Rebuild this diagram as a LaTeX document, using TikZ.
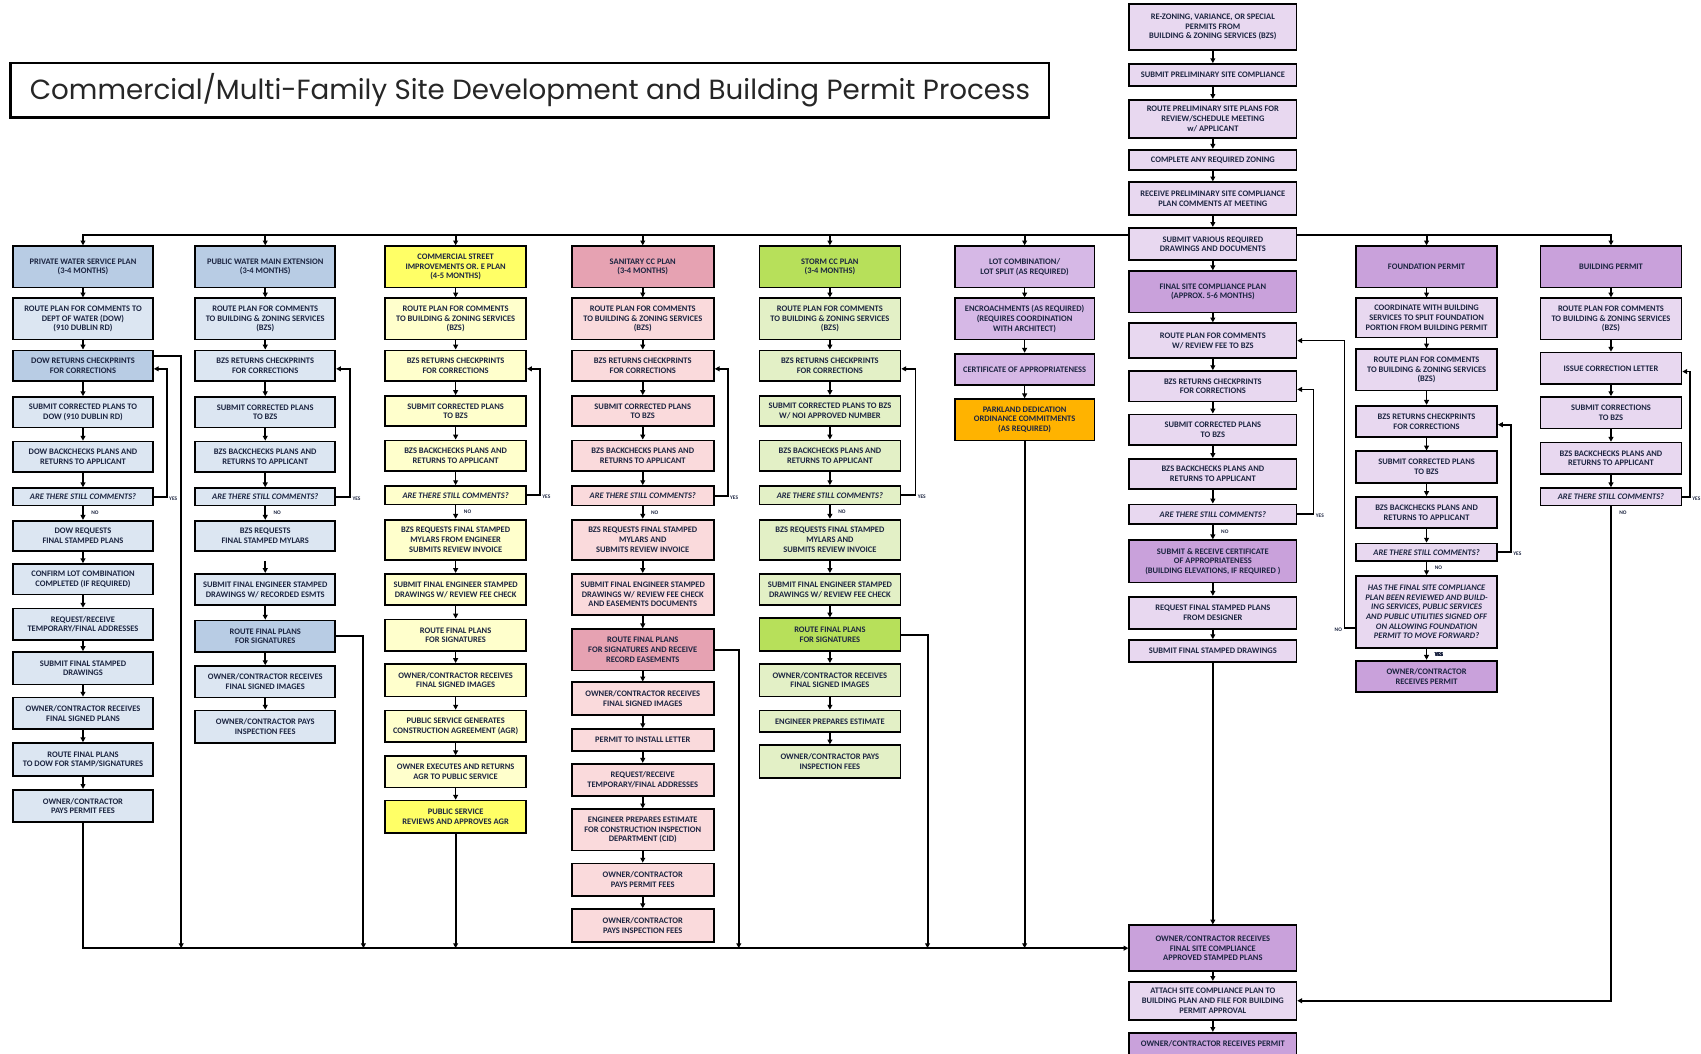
\documentclass[tikz,border=0pt]{standalone}
\usepackage{fontspec}
\usepackage{graphicx}
\usetikzlibrary{arrows.meta}
\newfontfamily\bxfam{Carlito}
\newfontfamily\ttlfam{Poppins}
\newcommand\bxfont{\bxfam\bfseries\fontsize{7.8}{8.9}\selectfont}
\definecolor{blueH}{HTML}{B8CCE4}
\definecolor{blueL}{HTML}{DCE6F2}
\definecolor{yelH}{HTML}{FFFF66}
\definecolor{yelL}{HTML}{FFFFCC}
\definecolor{pinkH}{HTML}{E6A2B2}
\definecolor{pinkL}{HTML}{FADADC}
\definecolor{grnH}{HTML}{B7E05A}
\definecolor{grnL}{HTML}{E3F0C6}
\definecolor{purH}{HTML}{C9A1DB}
\definecolor{purL}{HTML}{E8D8F0}
\definecolor{purM}{HTML}{D6B8E6}
\definecolor{orng}{HTML}{FFB300}
\definecolor{txt}{HTML}{1C2541}
\tikzset{
 box/.style={draw=black, line width=1.6pt, font=\bxfont, text=txt, align=center, inner sep=1pt},
 qq/.style={font=\bxfont\itshape},
 arr/.style={line width=1.5pt, -{Triangle[length=4.5pt,width=4.5pt]}},
 busarr/.style={line width=1.9pt, -{Triangle[length=4.5pt,width=4.5pt]}},
 lab/.style={font=\bxfam\bfseries\fontsize{5}{6}\selectfont, text=txt, inner sep=0.5pt},
}
% name, x, width, top, bottom, style, text
\newcommand\mkbox[7]{%
 \pgfmathsetlengthmacro\mbH{#5pt-#4pt}\pgfmathsetmacro\mbY{(#4+#5)/2}%
 \node[box,#6,minimum width=#3pt,minimum height=\mbH] (#1) at (#2,\mbY) {#7};}
\newcommand\yesloop[3]{%
 \draw[arr] (#1.east) -- ++(#3,0) coordinate (tmpc) |- ([yshift=-3pt]#2.east);
 \node[lab,anchor=west] at ([xshift=1.5pt,yshift=-1.5pt]tmpc) {YES};}
\newcommand\nolab[1]{\node[lab,anchor=west] at ([xshift=7pt,yshift=-6pt]#1.south) {NO};}
\begin{document}
\begin{tikzpicture}[x=1pt,y=-1pt]
\path[use as bounding box, clip] (0,0) rectangle (1568,971);
\fill[white] (0,0) rectangle (1568,971);
% title
\node[draw=black, line width=2.5pt, fill=white, minimum width=957pt, minimum height=50pt, inner sep=0pt] (title) at (488.5,83)
 {\resizebox{922pt}{!}{\ttlfam\color{black!85}Commercial/Multi-Family Site Development and Building Permit Process}};
% top chain
\def\cs{1118}
\mkbox{t1}{\cs}{154}{4}{46}{fill=purL}{RE-ZONING, VARIANCE, OR SPECIAL\\PERMITS FROM\\BUILDING \& ZONING SERVICES (BZS)}
\mkbox{t2}{\cs}{154}{59}{79}{fill=purL}{SUBMIT PRELIMINARY SITE COMPLIANCE}
\mkbox{t3}{\cs}{154}{92}{127}{fill=purL}{ROUTE PRELIMINARY SITE PLANS FOR\\REVIEW/SCHEDULE MEETING\\w/ APPLICANT}
\mkbox{t4}{\cs}{154}{138}{157}{fill=purL}{COMPLETE ANY REQUIRED ZONING}
\mkbox{t5}{\cs}{154}{168}{198}{fill=purL}{RECEIVE PRELIMINARY SITE COMPLIANCE\\PLAN COMMENTS AT MEETING}
\mkbox{sv}{\cs}{154}{210}{240}{fill=purL}{SUBMIT VARIOUS REQUIRED\\DRAWINGS AND DOCUMENTS}
% column 1
\def\cx{76.5}
\mkbox{c1a}{\cx}{129}{227}{265}{fill=blueH}{PRIVATE WATER SERVICE PLAN\\(3-4 MONTHS)}
\mkbox{c1b}{\cx}{129}{275}{313}{fill=blueL}{ROUTE PLAN FOR COMMENTS TO\\DEPT OF WATER (DOW)\\(910  DUBLIN RD)}
\mkbox{c1c}{\cx}{129}{323}{351}{fill=blueH}{DOW RETURNS CHECKPRINTS\\FOR CORRECTIONS}
\mkbox{c1d}{\cx}{129}{366}{394}{fill=blueL}{SUBMIT CORRECTED PLANS TO\\DOW (910 DUBLIN RD)}
\mkbox{c1e}{\cx}{129}{407}{435}{fill=blueL}{DOW BACKCHECKS PLANS AND\\RETURNS TO APPLICANT}
\mkbox{c1q}{\cx}{129}{450}{466}{fill=blueL,qq}{ARE THERE STILL COMMENTS?}
\mkbox{c1f}{\cx}{129}{480}{508}{fill=blueL}{DOW REQUESTS\\FINAL STAMPED PLANS}
\mkbox{c1g}{\cx}{129}{520}{548}{fill=blueL}{CONFIRM LOT COMBINATION\\COMPLETED (IF REQUIRED)}
\mkbox{c1h}{\cx}{129}{561}{590}{fill=blueL}{REQUEST/RECEIVE\\TEMPORARY/FINAL ADDRESSES}
\mkbox{c1i}{\cx}{129}{601}{631}{fill=blueL}{SUBMIT FINAL STAMPED\\DRAWINGS}
\mkbox{c1j}{\cx}{129}{643}{672}{fill=blueL}{OWNER/CONTRACTOR RECEIVES\\FINAL SIGNED PLANS}
\mkbox{c1k}{\cx}{129}{685}{715}{fill=blueL}{ROUTE FINAL PLANS\\TO DOW FOR STAMP/SIGNATURES}
\mkbox{c1l}{\cx}{129}{728}{758}{fill=blueL}{OWNER/CONTRACTOR\\PAYS PERMIT FEES}
% column 2
\def\cx{244.5}
\mkbox{c2a}{\cx}{129}{227}{265}{fill=blueH}{PUBLIC WATER MAIN EXTENSION\\(3-4 MONTHS)}
\mkbox{c2b}{\cx}{129}{275}{313}{fill=blueL}{ROUTE PLAN FOR COMMENTS\\TO BUILDING \& ZONING SERVICES\\(BZS)}
\mkbox{c2c}{\cx}{129}{323}{351}{fill=blueL}{BZS RETURNS CHECKPRINTS\\FOR CORRECTIONS}
\mkbox{c2d}{\cx}{129}{366}{394}{fill=blueL}{SUBMIT CORRECTED PLANS\\TO BZS}
\mkbox{c2e}{\cx}{129}{407}{435}{fill=blueL}{BZS BACKCHECKS PLANS AND\\RETURNS TO APPLICANT}
\mkbox{c2q}{\cx}{129}{450}{466}{fill=blueL,qq}{ARE THERE STILL COMMENTS?}
\mkbox{c2f}{\cx}{129}{480}{508}{fill=blueL}{BZS REQUESTS\\FINAL STAMPED MYLARS}
\mkbox{c2g}{\cx}{129}{529}{558}{fill=blueL}{SUBMIT FINAL ENGINEER STAMPED\\DRAWINGS  W/ RECORDED ESMTS}
\mkbox{c2h}{\cx}{129}{572}{601}{fill=blueH}{ROUTE  FINAL PLANS\\FOR SIGNATURES}
\mkbox{c2i}{\cx}{129}{614}{643}{fill=blueL}{OWNER/CONTRACTOR RECEIVES\\FINAL SIGNED IMAGES}
\mkbox{c2j}{\cx}{129}{655}{685}{fill=blueL}{OWNER/CONTRACTOR PAYS\\INSPECTION FEES}
\coordinate (c2gap) at (\cx,517);
% column 3
\def\cx{420}
\mkbox{c3a}{\cx}{130}{227}{265}{fill=yelH}{COMMERCIAL STREET\\IMPROVEMENTS OR. E PLAN\\(4-5 MONTHS)}
\mkbox{c3b}{\cx}{130}{275}{313}{fill=yelL}{ROUTE PLAN FOR COMMENTS\\TO BUILDING \& ZONING SERVICES\\(BZS)}
\mkbox{c3c}{\cx}{130}{323}{351}{fill=yelL}{BZS RETURNS CHECKPRINTS\\FOR CORRECTIONS}
\mkbox{c3d}{\cx}{130}{365}{393}{fill=yelL}{SUBMIT CORRECTED PLANS\\TO BZS}
\mkbox{c3e}{\cx}{130}{406}{434}{fill=yelL}{BZS BACKCHECKS PLANS AND\\RETURNS TO APPLICANT}
\mkbox{c3q}{\cx}{130}{448}{465}{fill=yelL,qq}{ARE THERE STILL COMMENTS?}
\mkbox{c3f}{\cx}{130}{479}{516}{fill=yelL}{BZS REQUESTS FINAL STAMPED\\MYLARS FROM ENGINEER\\SUBMITS REVIEW INVOICE}
\mkbox{c3g}{\cx}{130}{529}{558}{fill=yelL}{SUBMIT FINAL ENGINEER STAMPED\\DRAWINGS  W/ REVIEW FEE CHECK}
\mkbox{c3h}{\cx}{130}{571}{600}{fill=yelL}{ROUTE  FINAL PLANS\\FOR SIGNATURES}
\mkbox{c3i}{\cx}{130}{612}{642}{fill=yelL}{OWNER/CONTRACTOR RECEIVES\\FINAL SIGNED IMAGES}
\mkbox{c3j}{\cx}{130}{655}{684}{fill=yelL}{PUBLIC SERVICE GENERATES\\CONSTRUCTION AGREEMENT (AGR)}
\mkbox{c3k}{\cx}{130}{697}{726}{fill=yelL}{OWNER EXECUTES AND RETURNS\\AGR TO PUBLIC SERVICE}
\mkbox{c3l}{\cx}{130}{738}{768}{fill=yelH}{PUBLIC SERVICE\\REVIEWS AND APPROVES AGR}
% column 4
\def\cx{592.5}
\mkbox{c4a}{\cx}{131}{227}{265}{fill=pinkH}{SANITARY CC PLAN\\(3-4 MONTHS)}
\mkbox{c4b}{\cx}{131}{275}{313}{fill=pinkL}{ROUTE PLAN FOR COMMENTS\\TO BUILDING \& ZONING SERVICES\\(BZS)}
\mkbox{c4c}{\cx}{131}{323}{351}{fill=pinkL}{BZS RETURNS CHECKPRINTS\\FOR CORRECTIONS}
\mkbox{c4d}{\cx}{131}{365}{393}{fill=pinkL}{SUBMIT CORRECTED PLANS\\TO BZS}
\mkbox{c4e}{\cx}{131}{406}{434}{fill=pinkL}{BZS BACKCHECKS PLANS AND\\RETURNS TO APPLICANT}
\mkbox{c4q}{\cx}{131}{448}{466}{fill=pinkL,qq}{ARE THERE STILL COMMENTS?}
\mkbox{c4f}{\cx}{131}{479}{516}{fill=pinkL}{BZS REQUESTS FINAL STAMPED\\MYLARS AND\\SUBMITS REVIEW INVOICE}
\mkbox{c4g}{\cx}{131}{529}{567}{fill=pinkL}{SUBMIT FINAL ENGINEER STAMPED\\DRAWINGS  W/ REVIEW FEE CHECK\\AND EASEMENTS DOCUMENTS}
\mkbox{c4h}{\cx}{131}{580}{618}{fill=pinkH}{ROUTE  FINAL PLANS\\FOR SIGNATURES AND RECEIVE\\RECORD EASEMENTS}
\mkbox{c4i}{\cx}{131}{629}{659}{fill=pinkL}{OWNER/CONTRACTOR RECEIVES\\FINAL SIGNED IMAGES}
\mkbox{c4j}{\cx}{131}{672}{692}{fill=pinkL}{PERMIT TO INSTALL LETTER}
\mkbox{c4k}{\cx}{131}{704}{734}{fill=pinkL}{REQUEST/RECEIVE\\TEMPORARY/FINAL ADDRESSES}
\mkbox{c4l}{\cx}{131}{746}{784}{fill=pinkL}{ENGINEER PREPARES ESTIMATE\\FOR CONSTRUCTION INSPECTION\\DEPARTMENT (CID)}
\mkbox{c4m}{\cx}{131}{796}{826}{fill=pinkL}{OWNER/CONTRACTOR\\PAYS PERMIT FEES}
\mkbox{c4n}{\cx}{131}{838}{868}{fill=pinkL}{OWNER/CONTRACTOR\\PAYS INSPECTION FEES}
% column 5
\def\cx{765}
\mkbox{c5a}{\cx}{130}{227}{265}{fill=grnH}{STORM CC PLAN\\(3-4 MONTHS)}
\mkbox{c5b}{\cx}{130}{275}{313}{fill=grnL}{ROUTE PLAN FOR COMMENTS\\TO BUILDING \& ZONING SERVICES\\(BZS)}
\mkbox{c5c}{\cx}{130}{323}{351}{fill=grnL}{BZS RETURNS CHECKPRINTS\\FOR CORRECTIONS}
\mkbox{c5d}{\cx}{130}{365}{393}{fill=grnL}{SUBMIT CORRECTED PLANS TO BZS\\W/ NOI APPROVED NUMBER}
\mkbox{c5e}{\cx}{130}{406}{434}{fill=grnL}{BZS BACKCHECKS PLANS AND\\RETURNS TO APPLICANT}
\mkbox{c5q}{\cx}{130}{448}{465}{fill=grnL,qq}{ARE THERE STILL COMMENTS?}
\mkbox{c5f}{\cx}{130}{479}{516}{fill=grnL}{BZS REQUESTS FINAL STAMPED\\MYLARS AND\\SUBMITS REVIEW INVOICE}
\mkbox{c5g}{\cx}{130}{529}{558}{fill=grnL}{SUBMIT FINAL ENGINEER STAMPED\\DRAWINGS  W/ REVIEW FEE CHECK}
\mkbox{c5h}{\cx}{130}{570}{600}{fill=grnH}{ROUTE  FINAL PLANS\\FOR SIGNATURES}
\mkbox{c5i}{\cx}{130}{612}{642}{fill=grnL}{OWNER/CONTRACTOR RECEIVES\\FINAL SIGNED IMAGES}
\mkbox{c5j}{\cx}{130}{655}{675}{fill=grnL}{ENGINEER PREPARES ESTIMATE}
\mkbox{c5k}{\cx}{130}{687}{717}{fill=grnL}{OWNER/CONTRACTOR PAYS\\INSPECTION FEES}
% column 6
\def\cx{944.5}
\mkbox{c6a}{\cx}{129}{227}{265}{fill=purM}{LOT COMBINATION/\\LOT SPLIT (AS REQUIRED)}
\mkbox{c6b}{\cx}{129}{275}{313}{fill=purM}{ENCROACHMENTS (AS REQUIRED)\\(REQUIRES COORDINATION\\WITH ARCHITECT)}
\mkbox{c6c}{\cx}{129}{326}{355}{fill=purM}{CERTIFICATE OF APPROPRIATENESS}
\mkbox{c6d}{\cx}{129}{368}{406}{fill=orng}{PARKLAND DEDICATION\\ORDINANCE COMMITMENTS\\(AS REQUIRED)}
% column 7
\def\cx{1118}
\mkbox{c7a}{\cx}{154}{250}{288}{fill=purH}{FINAL SITE COMPLIANCE PLAN\\(APPROX. 5-6 MONTHS)}
\mkbox{c7b}{\cx}{154}{298}{330}{fill=purL}{ROUTE PLAN FOR COMMENTS\\W/ REVIEW FEE TO BZS}
\mkbox{c7c}{\cx}{154}{342}{370}{fill=purL}{BZS RETURNS CHECKPRINTS\\FOR CORRECTIONS}
\mkbox{c7d}{\cx}{154}{382}{410}{fill=purL}{SUBMIT CORRECTED PLANS\\TO BZS}
\mkbox{c7e}{\cx}{154}{423}{451}{fill=purL}{BZS BACKCHECKS PLANS AND\\RETURNS TO APPLICANT}
\mkbox{c7q}{\cx}{154}{465}{483}{fill=purL,qq}{ARE THERE STILL COMMENTS?}
\mkbox{c7f}{\cx}{154}{498}{537}{fill=purH}{SUBMIT \& RECEIVE CERTIFICATE\\OF APPROPRIATENESS\\(BUILDING ELEVATIONS, IF REQUIRED )}
\mkbox{c7g}{\cx}{154}{550}{580}{fill=purL}{REQUEST FINAL STAMPED PLANS\\FROM DESIGNER}
\mkbox{c7h}{\cx}{154}{590}{610}{fill=purL}{SUBMIT FINAL STAMPED DRAWINGS}
\mkbox{fin}{\cx}{154}{853}{895}{fill=purH}{OWNER/CONTRACTOR RECEIVES\\FINAL SITE COMPLIANCE\\APPROVED STAMPED PLANS}
\mkbox{att}{\cx}{154}{905}{940}{fill=purL}{ATTACH SITE COMPLIANCE PLAN TO\\BUILDING PLAN AND FILE FOR BUILDING\\PERMIT APPROVAL}
\mkbox{own}{\cx}{154}{952}{978}{fill=purH,text depth=6pt}{OWNER/CONTRACTOR RECEIVES PERMIT}
% column 8
\def\cx{1315}
\mkbox{c8a}{\cx}{130}{227}{265}{fill=purH}{FOUNDATION PERMIT}
\mkbox{c8b}{\cx}{130}{275}{311}{fill=purL}{COORDINATE WITH BUILDING\\SERVICES TO SPLIT FOUNDATION\\PORTION FROM BUILDING PERMIT}
\mkbox{c8c}{\cx}{130}{322}{360}{fill=purL}{ROUTE PLAN FOR COMMENTS\\TO BUILDING \& ZONING SERVICES\\(BZS)}
\mkbox{c8d}{\cx}{130}{374}{403}{fill=purL}{BZS RETURNS CHECKPRINTS\\FOR CORRECTIONS}
\mkbox{c8e}{\cx}{130}{416}{445}{fill=purL}{SUBMIT CORRECTED PLANS\\TO BZS}
\mkbox{c8f}{\cx}{130}{458}{487}{fill=purL}{BZS BACKCHECKS PLANS AND\\RETURNS TO APPLICANT}
\mkbox{c8q}{\cx}{130}{501}{517}{fill=purL,qq}{ARE THERE STILL COMMENTS?}
\mkbox{c8g}{\cx}{130}{531}{597}{fill=purL,qq}{HAS THE FINAL SITE COMPLIANCE\\PLAN BEEN REVIEWED AND BUILD-\\ING SERVICES, PUBLIC SERVICES\\AND PUBLIC UTILITIES SIGNED OFF\\ON ALLOWING FOUNDATION\\PERMIT TO MOVE FORWARD?}
\mkbox{c8h}{\cx}{130}{609}{638}{fill=purH}{OWNER/CONTRACTOR\\RECEIVES PERMIT}
% column 9
\def\cx{1485}
\mkbox{c9a}{\cx}{130}{227}{265}{fill=purH}{BUILDING PERMIT}
\mkbox{c9b}{\cx}{130}{275}{313}{fill=purL}{ROUTE PLAN FOR COMMENTS\\TO BUILDING \& ZONING SERVICES\\(BZS)}
\mkbox{c9c}{\cx}{130}{325}{354}{fill=purL}{ISSUE CORRECTION LETTER}
\mkbox{c9d}{\cx}{130}{366}{395}{fill=purL}{SUBMIT CORRECTIONS\\TO BZS}
\mkbox{c9e}{\cx}{130}{408}{437}{fill=purL}{BZS BACKCHECKS PLANS AND\\RETURNS TO APPLICANT}
\mkbox{c9q}{\cx}{130}{450}{466}{fill=purL,qq}{ARE THERE STILL COMMENTS?}
% sequential arrows
\foreach \a/\b in {t1/t2,t2/t3,t3/t4,t4/t5,t5/sv,sv/c7a,
 c1a/c1b,c1b/c1c,c1c/c1d,c1d/c1e,c1e/c1q,c1q/c1f,c1f/c1g,c1g/c1h,c1h/c1i,c1i/c1j,c1j/c1k,c1k/c1l,
 c2a/c2b,c2b/c2c,c2c/c2d,c2d/c2e,c2e/c2q,c2q/c2f,c2gap/c2g,c2g/c2h,c2h/c2i,c2i/c2j,
 c3a/c3b,c3b/c3c,c3c/c3d,c3d/c3e,c3e/c3q,c3q/c3f,c3f/c3g,c3g/c3h,c3h/c3i,c3i/c3j,c3j/c3k,c3k/c3l,
 c4a/c4b,c4b/c4c,c4c/c4d,c4d/c4e,c4e/c4q,c4q/c4f,c4f/c4g,c4g/c4h,c4h/c4i,c4i/c4j,c4j/c4k,c4k/c4l,c4l/c4m,c4m/c4n,
 c5a/c5b,c5b/c5c,c5c/c5d,c5d/c5e,c5e/c5q,c5q/c5f,c5f/c5g,c5g/c5h,c5h/c5i,c5i/c5j,c5j/c5k,
 c6a/c6b,c6b/c6c,c6c/c6d,
 c7a/c7b,c7b/c7c,c7c/c7d,c7d/c7e,c7e/c7q,c7q/c7f,c7f/c7g,c7g/c7h,c7h/fin,fin/att,att/own,
 c8a/c8b,c8b/c8c,c8c/c8d,c8d/c8e,c8e/c8f,c8f/c8q,c8q/c8g,c8g/c8h,
 c9a/c9b,c9b/c9c,c9c/c9d,c9d/c9e,c9e/c9q}
 \draw[arr] (\a) -- (\b);
% top distribution bus
\foreach \h in {c1a,c2a,c3a,c4a,c5a,c6a}
 \draw[busarr] ([yshift=8pt]sv.west) -| (\h.north);
\foreach \h in {c8a,c9a}
 \draw[busarr] ([yshift=8pt]sv.east) -| (\h.north);
% yes loops
\yesloop{c1q}{c1c}{12}
\yesloop{c2q}{c2c}{13}
\yesloop{c3q}{c3c}{12}
\yesloop{c4q}{c4c}{12}
\yesloop{c5q}{c5c}{13}
\yesloop{c7q}{c7c}{15}
\yesloop{c8q}{c8d}{12}
\yesloop{c9q}{c9c}{7}
% no labels
\foreach \q in {c1q,c2q,c3q,c4q,c5q,c7q,c8q,c9q} \nolab{\q}
\node[lab,anchor=west] at ([xshift=7pt,yshift=-6pt]c8g.south) {YES};
% foundation question NO branch
\draw[arr] ([yshift=-15pt]c8g.west) -- ++(-10,0) coordinate (nob) |- (c7b.east);
\node[lab,anchor=east] at ([xshift=-1.5pt,yshift=-1.5pt]nob) {NO};
% building permit NO branch
\draw[busarr] (c9q.south) |- (att.east);
% bottom collection bus
\draw[busarr] (c1l.south) |- (fin.west);
\coordinate (d1) at (167,0);
\coordinate (d2) at (335,0);
\coordinate (d4) at (681,0);
\coordinate (d5) at (855,0);
\draw[busarr] ([yshift=-6pt]c1c.north east) -| (d1 |- fin.west);
\draw[busarr] (c2h.east) -| (d2 |- fin.west);
\draw[busarr] (c3l.south) -- (c3l.south |- fin.west);
\draw[busarr] (c4h.east) -| (d4 |- fin.west);
\draw[busarr] (c5h.east) -| (d5 |- fin.west);
\draw[busarr] (c6d.south) -- (c6d.south |- fin.west);
\end{tikzpicture}
\end{document}
